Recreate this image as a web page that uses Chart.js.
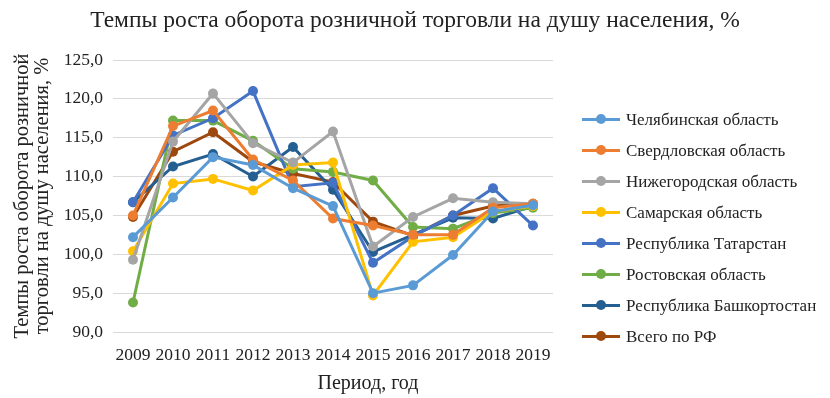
<!DOCTYPE html>
<html>
<head>
<meta charset="utf-8">
<script src="https://cdn.jsdelivr.net/npm/chart.js@4"></script>
<style>
   body { margin: 0; background: #fff; }
   #wrap { position: relative; width: 830px; height: 398px; font-family: "Liberation Serif", "Times New Roman", serif; color: #222; }
   #title { position: absolute; left: 0; top: 6px; width: 830px; text-align: center; font-size: 23.5px; }
   #xtitle { position: absolute; left: 268px; top: 371px; width: 200px; text-align: center; font-size: 20px; }
   #legend { position: absolute; left: 582px; top: 104px; font-size: 17px; }
   .item { height: 31px; display: flex; align-items: center; }
   .mark { position: relative; width: 38px; height: 3px; margin-right: 6px; }
   .mark span { position: absolute; left: 14px; top: -4px; width: 10px; height: 10px; border-radius: 50%; }
</style>
</head>
<body>
<div id="wrap">
   <canvas id="chart" width="830" height="398"></canvas>
   <div id="title">Темпы роста оборота розничной торговли на душу населения, %</div>
   <div id="xtitle">Период, год</div>
   <div id="legend"></div>
</div>
<script>
const years = ["2009", "2010", "2011", "2012", "2013", "2014", "2015", "2016", "2017", "2018", "2019"];

const chelyabinsk = [102.2, 107.3, 112.5, 111.5, 108.5, 106.2, 95.0, 96.0, 99.9, 105.5, 106.3];
const sverdlovsk = [105.0, 116.5, 118.5, 112.2, 109.5, 104.6, 103.7, 102.5, 102.5, 106.0, 106.5];
const nizhny = [99.3, 114.5, 120.7, 114.3, 111.8, 115.8, 101.0, 104.8, 107.2, 106.7, 106.5];
const samara = [100.4, 109.1, 109.7, 108.2, 111.5, 111.8, 94.7, 101.6, 102.2, 105.5, 106.2];
const tatarstan = [106.7, 115.3, 117.5, 121.0, 108.7, 109.2, 98.9, 102.3, 105.0, 108.5, 103.7];
const rostov = [93.8, 117.2, 117.2, 114.6, 111.0, 110.6, 109.5, 103.5, 103.3, 105.3, 106.0];
const bashkortostan = [106.7, 111.3, 112.9, 110.0, 113.8, 108.3, 100.3, 102.5, 104.7, 104.6, 106.2];
const russia = [104.8, 113.2, 115.7, 111.9, 110.4, 109.3, 104.2, 102.4, 105.0, 106.2, 106.5];

const seriesNames = [
   "Челябинская область",
   "Свердловская область",
   "Нижегородская область",
   "Самарская область",
   "Республика Татарстан",
   "Ростовская область",
   "Республика Башкортостан",
   "Всего по РФ"
];
const seriesData = [chelyabinsk, sverdlovsk, nizhny, samara, tatarstan, rostov, bashkortostan, russia];
const colors = ["#5B9BD5", "#ED7D31", "#A5A5A5", "#FFC000", "#4472C4", "#70AD47", "#255E91", "#9E480E"];

const serif = "'Liberation Serif', 'Times New Roman', serif";

const datasets = seriesNames.map((name, i) => ({
   label: name,
   data: seriesData[i],
   borderColor: colors[i],
   backgroundColor: colors[i],
   borderWidth: 3,
   pointRadius: 5,
   pointBorderWidth: 0,
   tension: 0
}));

new Chart(document.getElementById("chart"), {
   type: "line",
   data: { labels: years, datasets: datasets },
   options: {
      responsive: false,
      animation: false,
      layout: { padding: { left: 8, right: 277, top: 60, bottom: 4 } },
      plugins: {
         legend: { display: false },
         tooltip: { enabled: false }
      },
      scales: {
         x: {
            offset: true,
            grid: { display: false },
            border: { display: false },
            afterFit: (scale) => { scale.height = 62; },
            ticks: { color: "#222", font: { family: serif, size: 17.5 }, padding: 5, maxRotation: 0, autoSkip: false }
         },
         y: {
            min: 90,
            max: 125,
            afterFit: (scale) => { scale.width = 105; },
            grid: { color: "#d9d9d9", lineWidth: 1, drawTicks: false },
            border: { display: false },
            ticks: {
               stepSize: 5,
               padding: 10,
               color: "#222",
               font: { family: serif, size: 17.5 },
               callback: (v) => v.toFixed(1).replace(".", ",")
            },
            title: {
               display: true,
               text: ["Темпы роста оборота розничной", "торговли на душу населения, %"],
               color: "#222",
               font: { family: serif, size: 20.5, lineHeight: 1.0 },
               padding: { top: 4, bottom: 0 }
            }
         }
      }
   }
});

// legend in the Excel style: a short line with a marker in the middle
const legendBox = document.getElementById("legend");
seriesNames.forEach((name, i) => {
   const item = document.createElement("div");
   item.className = "item";
   item.innerHTML = `<div class="mark" style="background:${colors[i]}"><span style="background:${colors[i]}"></span></div>${name}`;
   legendBox.appendChild(item);
});
</script>
</body>
</html>
